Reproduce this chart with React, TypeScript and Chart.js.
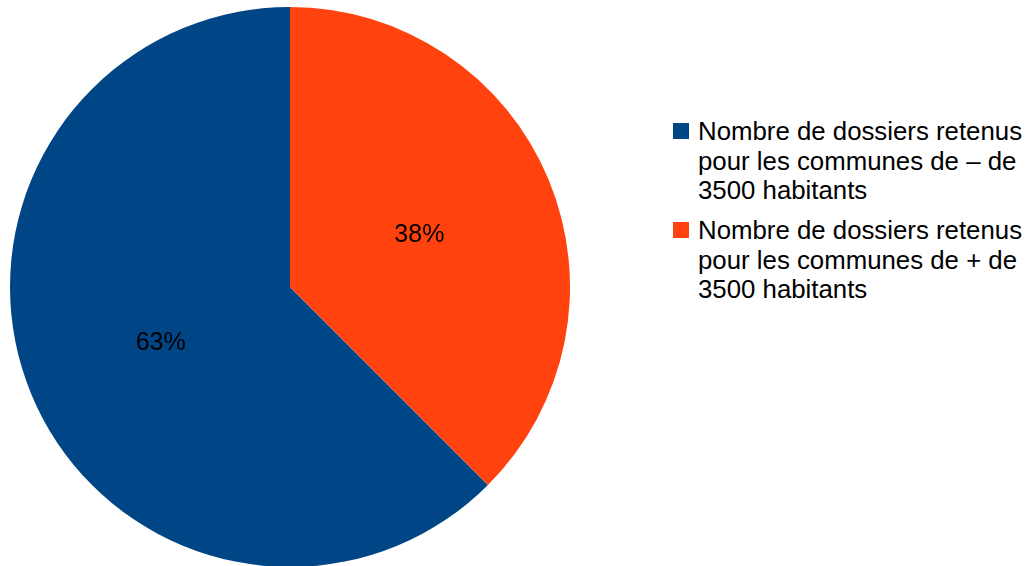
import React, { useEffect, useRef } from "react";
import { Chart, registerables } from "chart.js";

Chart.register(...registerables);

const categories = [
  "Nombre de dossiers retenus pour les communes de – de 3500 habitants",
  "Nombre de dossiers retenus pour les communes de + de 3500 habitants",
];
const legendLines = [
  ["Nombre de dossiers retenus", "pour les communes de – de", "3500 habitants"],
  ["Nombre de dossiers retenus", "pour les communes de + de", "3500 habitants"],
];
const values = [5, 3];
const colors = ["#004586", "#ff420e"];

const FONT = '"Liberation Sans", Arial, sans-serif';

const pctPlugin = {
  id: "pctLabels",
  afterDatasetsDraw(chart: any) {
    const ctx = chart.ctx;
    const meta = chart.getDatasetMeta(0);
    const data = chart.data.datasets[0].data as number[];
    const total = data.reduce((a, b) => a + b, 0);
    ctx.save();
    ctx.font = `25px ${FONT}`;
    ctx.fillStyle = "#000000";
    ctx.textAlign = "center";
    ctx.textBaseline = "alphabetic";
    meta.data.forEach((arc: any, i: number) => {
      const p = arc.getProps(["x", "y", "startAngle", "endAngle", "outerRadius"], true);
      const mid = (p.startAngle + p.endAngle) / 2;
      const r = p.outerRadius * 0.5;
      const x = p.x + Math.cos(mid) * r;
      const y = p.y + Math.sin(mid) * r;
      const label = Math.round((data[i] / total) * 100) + "%";
      ctx.fillText(label, x, y + 9);
    });
    ctx.restore();
  },
};

export default function App() {
  const ref = useRef<HTMLCanvasElement | null>(null);

  useEffect(() => {
    if (!ref.current) return;
    const chart = new Chart(ref.current, {
      type: "pie",
      data: {
        labels: categories,
        datasets: [
          {
            data: values,
            backgroundColor: colors,
            borderWidth: 0,
          },
        ],
      },
      options: {
        animation: false,
        responsive: false,
        maintainAspectRatio: false,
        rotation: 135,
        layout: { padding: { left: 10, right: 10, top: 7, bottom: 7 } },
        plugins: {
          legend: { display: false },
          tooltip: { enabled: false },
        },
      },
      plugins: [pctPlugin],
    });
    return () => chart.destroy();
  }, []);

  return (
    <div
      style={{
        position: "fixed",
        left: 0,
        top: 0,
        width: 1028,
        height: 566,
        overflow: "hidden",
        background: "#ffffff",
      }}
    >
      <canvas
        ref={ref}
        width={580}
        height={574}
        style={{ position: "absolute", left: 0, top: 0, width: 580, height: 574 }}
      />
      <div
        style={{
          position: "absolute",
          left: 673,
          top: 117.3,
          fontFamily: FONT,
          fontSize: 25.8,
          lineHeight: "29.5px",
          color: "#000000",
          whiteSpace: "nowrap",
        }}
      >
        {legendLines.map((lines, i) => (
          <div key={i} style={{ position: "relative", paddingLeft: 25, marginBottom: 10.5 }}>
            <span
              style={{
                position: "absolute",
                left: 0,
                top: 6,
                width: 16,
                height: 16,
                background: colors[i],
              }}
            />
            {lines.map((l, j) => (
              <div key={j}>{l}</div>
            ))}
          </div>
        ))}
      </div>
    </div>
  );
}
